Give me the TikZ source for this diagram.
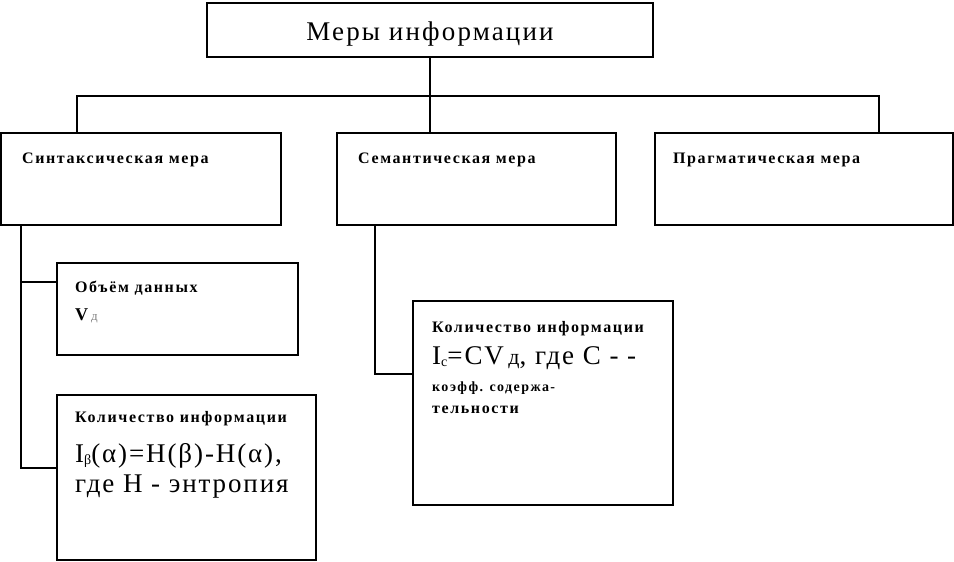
\documentclass[tikz,border=0pt]{standalone}
\usepackage{fontspec}
\setmainfont{Liberation Serif}
\newfontfamily\spacedsmall[LetterSpace=10]{Liberation Serif}
\newfontfamily\spacedbig[LetterSpace=7]{Liberation Serif}
\newfontfamily\spacedtitle[LetterSpace=8]{Liberation Serif}
\begin{document}
\begin{tikzpicture}[x=1pt,y=-1pt,
  box/.style={draw,line width=1.6pt,inner sep=0pt},
  wire/.style={line width=1.6pt},
  lbl/.style={anchor=base west,inner sep=0pt},
  small/.style={font=\spacedsmall\bfseries\fontsize{16}{16}\selectfont},
  big/.style={font=\spacedbig\fontsize{27}{27}\selectfont}]
\useasboundingbox (0,0) rectangle (954,562);
% boxes
\node[box,minimum width=446pt,minimum height=54pt] (top) at (430,30) {};
\node[box,minimum width=280pt,minimum height=92pt] (s1) at (141,179) {};
\node[box,minimum width=279pt,minimum height=92pt] (s2) at (476.5,179) {};
\node[box,minimum width=298pt,minimum height=92pt] (s3) at (804,179) {};
\node[box,minimum width=241pt,minimum height=92pt] (v1) at (177.5,309) {};
\node[box,minimum width=259pt,minimum height=165pt] (q1) at (186.5,477.5) {};
\node[box,minimum width=260pt,minimum height=204pt] (q2) at (543,403) {};
% connectors
\coordinate (b1) at (77,96);
\coordinate (b3) at (879,96);
\coordinate (j1) at (21,282);
\coordinate (j2) at (21,468);
\coordinate (m1) at (375,374);
\draw[wire] (top.south) -- (top.south |- s2.north);
\draw[wire] (s1.north -| b1) -- (b1) -- (b3) -- (s3.north -| b3);
\draw[wire] (s1.south -| j1) -- (j2) -- (j2 -| q1.west);
\draw[wire] (j1) -- (j1 -| v1.west);
\draw[wire] (s2.south -| m1) -- (m1) -- (m1 -| q2.west);
% texts
\node[anchor=base,inner sep=0pt,font=\spacedtitle\fontsize{27}{27}\selectfont] (t0) at (430,41) {Меры информации};
\node[lbl,small] (t1) at (22,163) {Синтаксическая мера};
\node[lbl,small] (t2) at (358,163) {Семантическая мера};
\node[lbl,small] (t3) at (673,163) {Прагматическая мера};
\node[lbl,small] (t4) at (75,292) {Объём данных};
\node[lbl,inner sep=0pt,font=\bfseries\fontsize{18}{18}\selectfont] (t5) at (75,320) {V\,{\mdseries\color{gray}\fontsize{13}{13}\selectfont д}};
\node[lbl,small] (t6) at (75,422) {Количество информации};
\node[lbl,big] (t7) at (75,462) {I\raisebox{-2pt}{\fontsize{14}{14}\selectfont β}(α)=H(β)-H(α),};
\node[lbl,big] (t8) at (75,492) {где H - энтропия};
\node[lbl,small] (t9) at (432,332) {Количество информации};
\node[lbl,big] (t10) at (432,364) {I\raisebox{-2pt}{\fontsize{14}{14}\selectfont c}=CV\,{\fontsize{22}{22}\selectfont д}, где С - -};
\node[lbl,small,font=\spacedsmall\bfseries\fontsize{14}{14}\selectfont] (t11) at (432,391) {коэфф. содержа-};
\node[lbl,small] (t12) at (432,413) {тельности};
\end{tikzpicture}
\end{document}
